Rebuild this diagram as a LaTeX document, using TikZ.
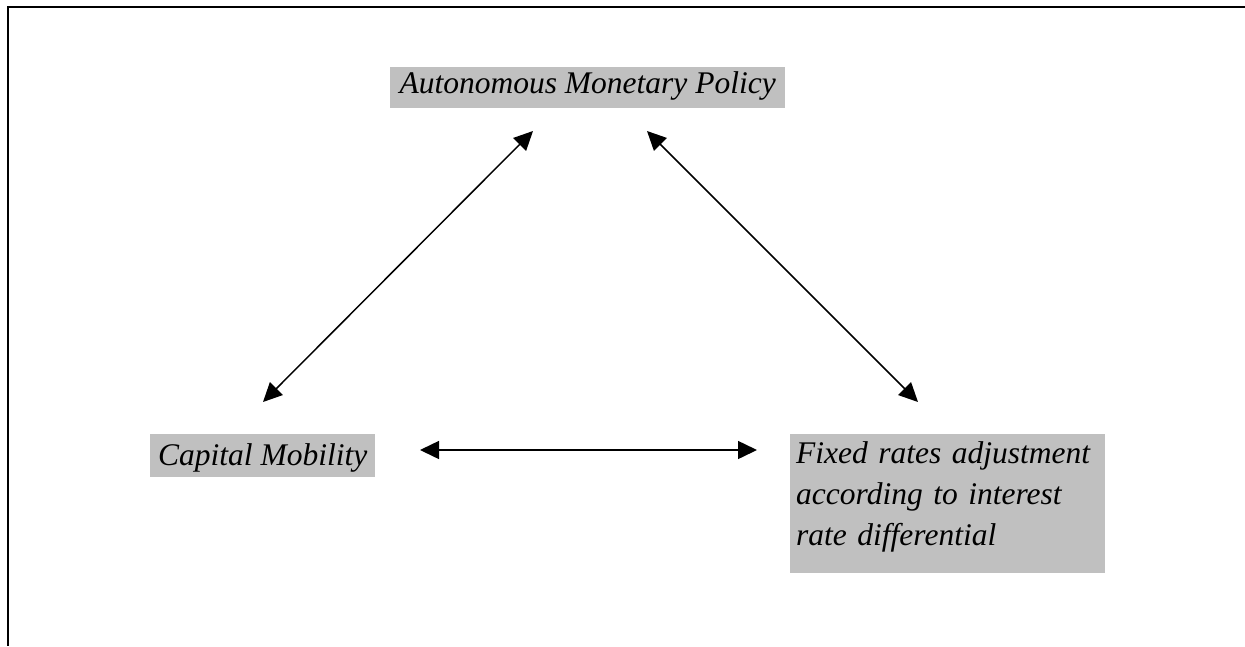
\documentclass[tikz,border=0pt]{standalone}
\usepackage{fontspec}
\setmainfont{Liberation Serif}
\usetikzlibrary{arrows.meta}
\definecolor{boxgray}{HTML}{C0C0C0}
\begin{document}
\begin{tikzpicture}[x=1pt,y=-1pt,
  labelbox/.style={fill=boxgray, inner sep=0pt, anchor=north west,
    font=\itshape\fontsize{31.5}{41}\selectfont},
  link/.style={line width=1.5pt, {Triangle[length=19pt,width=18pt]}-{Triangle[length=19pt,width=18pt]}},
  frameline/.style={line width=2pt}]
\useasboundingbox (0,0) rectangle (1245,646);
% frame (top and left only)
\coordinate (fa) at (1245,6.5);
\coordinate (fb) at (7.5,6.5);
\coordinate (fc) at (7.5,646);
\draw[frameline] (fa) -- (fb) -- (fc);
% nodes
\node[labelbox, minimum width=395pt, text height=26pt, text depth=15pt] (amp) at (390,67) {Autonomous Monetary Policy};
\node[labelbox, minimum width=225pt, text height=31pt, text depth=12pt] (cm) at (150,434) {Capital Mobility};
\node[labelbox, inner xsep=6pt, text width=303pt, align=left, text height=29pt, text depth=110pt] (fr) at (790,434) {Fixed rates adjustment\\according to interest\\rate differential};
% arrow endpoints
\coordinate (cmUp) at (263,402);
\coordinate (ampL) at (533,131);
\coordinate (ampR) at (647,131);
\coordinate (frUp) at (918,402);
\coordinate (cmR) at (420,450);
\coordinate (frL) at (757,450);
\draw[link] (cmUp) -- (ampL);
\draw[link] (ampR) -- (frUp);
\draw[link] (cmR) -- (frL);
\end{tikzpicture}
\end{document}
